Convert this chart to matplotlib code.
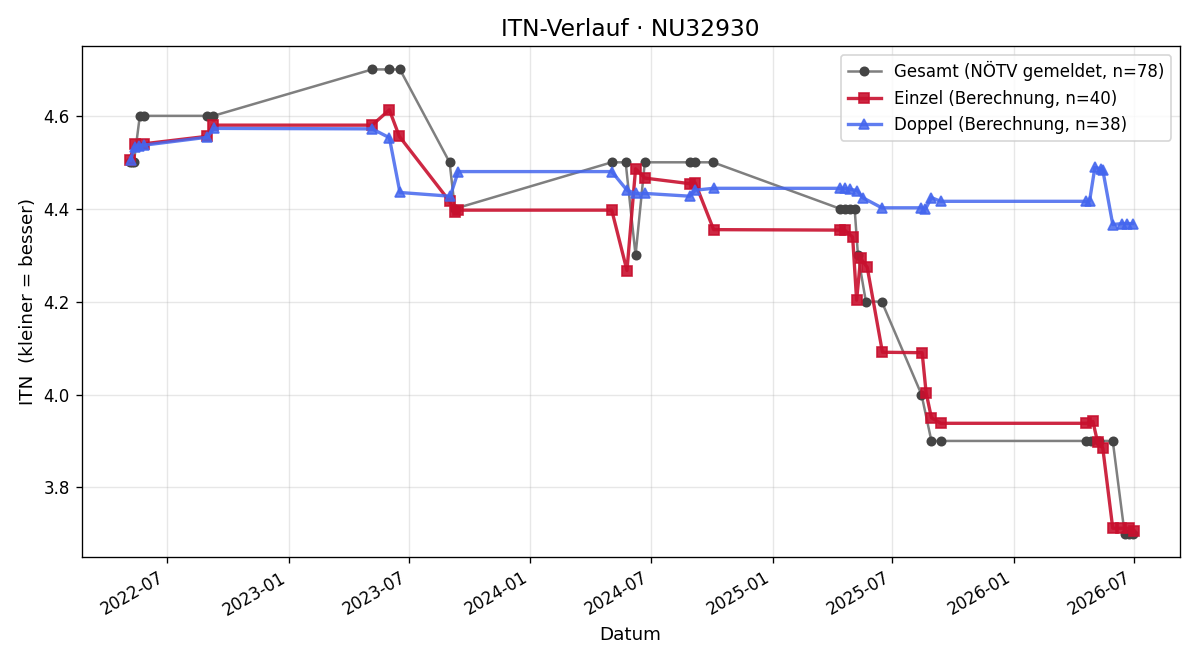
import numpy as np
import pandas as pd
import matplotlib
matplotlib.use("Agg")
import matplotlib.pyplot as plt
import matplotlib.dates as mdates

SPIELER = "NU32930"

# Gesamt-ITN laut NÖTV
gesamt_datum = ["2022-05-06", "2022-05-09", "2022-05-12", "2022-05-21", "2022-05-28",
                "2022-08-30", "2022-09-09", "2023-05-07", "2023-06-02", "2023-06-18",
                "2023-09-01", "2023-09-09", "2024-05-03", "2024-05-24", "2024-06-08",
                "2024-06-22", "2024-08-29", "2024-09-06", "2024-10-03", "2025-04-13",
                "2025-04-20", "2025-04-28", "2025-05-05", "2025-05-10", "2025-05-22",
                "2025-06-15", "2025-08-14", "2025-08-29", "2025-09-13", "2026-04-20",
                "2026-04-27", "2026-05-09", "2026-05-30", "2026-06-17", "2026-06-24",
                "2026-06-29"]
gesamt_itn = [4.5, 4.5, 4.5, 4.6, 4.6,
              4.6, 4.6, 4.7, 4.7, 4.7,
              4.5, 4.4, 4.5, 4.5, 4.3,
              4.5, 4.5, 4.5, 4.5, 4.4,
              4.4, 4.4, 4.4, 4.3, 4.2,
              4.2, 4.0, 3.9, 3.9, 3.9,
              3.9, 3.9, 3.9, 3.7, 3.7,
              3.7]

# Einzel (berechnet)
einzel_datum = ["2022-05-06", "2022-05-13", "2022-05-28", "2022-08-31", "2022-09-08",
                "2023-05-07", "2023-06-02", "2023-06-17", "2023-09-01", "2023-09-09",
                "2023-09-14", "2024-05-03", "2024-05-26", "2024-06-08", "2024-06-22",
                "2024-08-29", "2024-09-06", "2024-10-04", "2025-04-13", "2025-04-20",
                "2025-05-02", "2025-05-08", "2025-05-14", "2025-05-24", "2025-06-16",
                "2025-08-15", "2025-08-21", "2025-08-29", "2025-09-12", "2026-04-20",
                "2026-04-30", "2026-05-07", "2026-05-15", "2026-05-30", "2026-06-12",
                "2026-06-24", "2026-07-01"]
einzel_itn = [4.505, 4.540, 4.540, 4.556, 4.580,
              4.580, 4.613, 4.556, 4.416, 4.392,
              4.397, 4.397, 4.267, 4.486, 4.466,
              4.454, 4.456, 4.355, 4.354, 4.354,
              4.339, 4.203, 4.293, 4.274, 4.091,
              4.090, 4.004, 3.950, 3.938, 3.938,
              3.942, 3.898, 3.884, 3.712, 3.712,
              3.712, 3.707]

# Doppel (berechnet)
doppel_datum = ["2022-05-07", "2022-05-13", "2022-05-20", "2022-05-28", "2022-08-31",
                "2022-09-10", "2023-05-07", "2023-06-02", "2023-06-18", "2023-09-02",
                "2023-09-14", "2024-05-03", "2024-05-26", "2024-06-08", "2024-06-22",
                "2024-08-29", "2024-09-06", "2024-10-04", "2025-04-13", "2025-04-20",
                "2025-04-28", "2025-05-09", "2025-05-17", "2025-06-15", "2025-08-14",
                "2025-08-20", "2025-08-29", "2025-09-12", "2026-04-20", "2026-04-25",
                "2026-05-03", "2026-05-12", "2026-05-15", "2026-05-30", "2026-06-13",
                "2026-06-21", "2026-06-29"]
doppel_itn = [4.505, 4.533, 4.536, 4.537, 4.554,
              4.573, 4.572, 4.553, 4.435, 4.427,
              4.480, 4.480, 4.440, 4.433, 4.433,
              4.427, 4.440, 4.444, 4.444, 4.444,
              4.442, 4.439, 4.424, 4.402, 4.402,
              4.399, 4.424, 4.416, 4.416, 4.417,
              4.489, 4.486, 4.483, 4.366, 4.368,
              4.368, 4.368]

g_x = pd.to_datetime(gesamt_datum)
e_x = pd.to_datetime(einzel_datum)
d_x = pd.to_datetime(doppel_datum)

fig, ax = plt.subplots(figsize=(10, 5.5), dpi=120)

ax.plot(g_x, gesamt_itn, color="#7f7f7f", linewidth=1.5, marker="o", markersize=5,
        markerfacecolor="#444444", markeredgecolor="#444444",
        label="Gesamt (NÖTV gemeldet, n=78)")
ax.plot(e_x, einzel_itn, color="#c8102e", alpha=0.9, linewidth=2, marker="s", markersize=6,
        label="Einzel (Berechnung, n=40)")
ax.plot(d_x, doppel_itn, color="#4466ee", alpha=0.85, linewidth=2, marker="^", markersize=6,
        label="Doppel (Berechnung, n=38)")

ax.set_title(f"ITN-Verlauf · {SPIELER}", fontsize=14)
ax.set_xlabel("Datum", fontsize=11)
ax.set_ylabel("ITN  (kleiner = besser)", fontsize=11)
ax.grid(True, alpha=0.3)
ax.legend(loc="upper right")

ax.xaxis.set_major_locator(mdates.MonthLocator(bymonth=(1, 7)))
ax.xaxis.set_major_formatter(mdates.DateFormatter("%Y-%m"))
ax.set_xlim(pd.Timestamp("2022-02-22"), pd.Timestamp("2026-09-08"))
fig.autofmt_xdate()

fig.subplots_adjust(left=0.068, right=0.983, top=0.930, bottom=0.156)
fig.savefig("out.png")
